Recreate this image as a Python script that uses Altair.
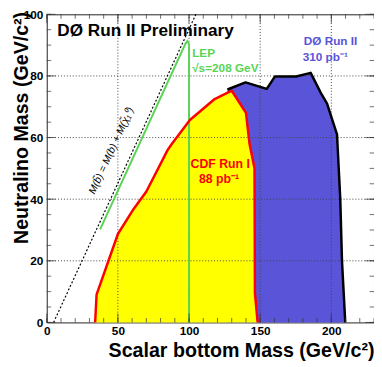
import altair as alt
import pandas as pd

# CDF Run I excluded region boundary (red / yellow)
cdf_x = [34, 35, 50, 60.3, 70, 85, 88, 100.6, 118, 130, 140, 142.5, 146, 146.3, 148.2]
cdf_y = [0, 9, 28.7, 36.3, 42.5, 56, 58, 65.7, 72.5, 75.2, 68, 58, 50, 9.5, 0]

# D0 Run II excluded region boundary (black / blue)
d0_x = [127, 139.7, 154.6, 160.3, 175.3, 185.5, 192.6, 197, 204, 206.3, 207.5, 209.8]
d0_y = [75.6, 77.9, 75.8, 79.8, 79.8, 81, 74.5, 71, 61, 40, 20, 0]

# LEP limit (green)
lep_x = [37.5, 97.5, 98.8, 100, 100]
lep_y = [30.2, 90.5, 91.3, 90.3, 0]

# Kinematic limit M(sbottom) = M(b) + M(chi)
kin_x = [4.8, 104.8]
kin_y = [0, 100]

x_labels = [0, 50, 100, 150, 200]
y_labels = [0, 20, 40, 60, 80, 100]
x_grid = [50, 100, 150, 200]
y_grid = [20, 40, 60, 80]
x_minor = list(range(0, 231, 10))
y_minor = list(range(0, 101, 5))

FONT = "Liberation Sans"
W, H = 333.5, 314

xs = alt.Scale(domain=[0, 230], nice=False, zero=False)
ys = alt.Scale(domain=[0, 100], nice=False, zero=False)
xaxis = alt.Axis(values=x_labels, title="Scalar bottom Mass (GeV/c²)", grid=False, ticks=False,
                 domain=False, labelPadding=3, labelOverlap=False, labelFlush=False,
                 titleAnchor="end", titleAlign="right", titleX=W, titleY=35,
                 titleBaseline="alphabetic")
yaxis = alt.Axis(values=y_labels, title="Neutralino Mass (GeV/c²)", grid=False, ticks=False,
                 domain=False, labelPadding=4, labelOverlap=False, labelFlush=False,
                 titleAnchor="end", titleAlign="right", titleX=-19.5, titleY=-3,
                 titleBaseline="alphabetic", titleAngle=270)


def X():
    return alt.X("x:Q", scale=xs, axis=xaxis)


def Y():
    return alt.Y("y:Q", scale=ys, axis=yaxis)


cdf = pd.DataFrame({"x": cdf_x, "y": cdf_y, "y0": [0] * len(cdf_x), "o": range(len(cdf_x))})
d0 = pd.DataFrame({"x": d0_x, "y": d0_y, "y0": [0] * len(d0_x), "o": range(len(d0_x))})
lep = pd.DataFrame({"x": lep_x, "y": lep_y, "o": range(len(lep_x))})
kin = pd.DataFrame({"x": kin_x, "y": kin_y})

blue = alt.Chart(d0).mark_area(color="#5954d8", opacity=1).encode(
    x=X(), y=Y(), y2="y0:Q")
yellow = alt.Chart(cdf).mark_area(color="#ffff00", opacity=1).encode(
    x=X(), y=Y(), y2="y0:Q")

gridx = alt.Chart(pd.DataFrame({"x": x_grid})).mark_rule(
    color="#444", strokeWidth=1, strokeDash=[1, 2]).encode(x=X())
gridy = alt.Chart(pd.DataFrame({"y": y_grid})).mark_rule(
    color="#444", strokeWidth=1, strokeDash=[1, 2]).encode(y=Y())

green = alt.Chart(lep).mark_line(color="#59d454", strokeWidth=2).encode(x=X(), y=Y(), order="o:Q")
red = alt.Chart(cdf).mark_line(color="#ff0000", strokeWidth=2.5, strokeJoin="round").encode(
    x=X(), y=Y(), order="o:Q")
black = alt.Chart(d0).mark_line(color="#000000", strokeWidth=2.5, strokeJoin="round").encode(
    x=X(), y=Y(), order="o:Q")
dashed = alt.Chart(kin).mark_line(color="#000000", strokeWidth=1.2, strokeDash=[2, 2]).encode(
    x=X(), y=Y())


def ticks_x(vals, size, top):
    return alt.Chart(pd.DataFrame({"x": vals})).mark_tick(
        size=size, thickness=1, color="#333").encode(
        x=X(), y=alt.value(size / 2 if top else H - size / 2))


def ticks_y(vals, size, right):
    return alt.Chart(pd.DataFrame({"y": vals})).mark_tick(
        size=size, thickness=1, color="#333").encode(
        y=Y(), x=alt.value(W - size / 2 if right else size / 2))


tick_layers = [
    ticks_x(x_minor, 4.5, False), ticks_x(x_minor, 4.5, True),
    ticks_x(x_labels, 9, False), ticks_x(x_labels, 9, True),
    ticks_y(y_minor, 4.5, False), ticks_y(y_minor, 4.5, True),
    ticks_y(y_labels, 9, False), ticks_y(y_labels, 9, True),
]


def label(text, x, y, color, size, weight="bold", align="left", angle=0,
          baseline="alphabetic", style="normal"):
    return alt.Chart(pd.DataFrame({"x": [x], "y": [y], "t": [text]})).mark_text(
        color=color, fontSize=size, fontWeight=weight, align=align, angle=angle,
        baseline=baseline, font=FONT, fontStyle=style).encode(x=X(), y=Y(), text="t:N")


texts = [
    label("DØ Run II Preliminary", 7.45, 92.8, "#000000", 17.5),
    label("LEP", 102.2, 86.0, "#59d454", 12),
    label("√s=208 GeV", 102.2, 81.3, "#59d454", 12),
    label("DØ Run II", 180.6, 90.1, "#5954d8", 12),
    label("310 pb⁻¹", 179.9, 85.0, "#5954d8", 12),
    label("CDF Run I", 121.9, 50.0, "#ff0000", 12.5, align="center"),
    label("88 pb⁻¹", 121.0, 45.4, "#ff0000", 12.5, align="center"),
    label("M(b\u0303) = M(b) + M(\u03c7\u0303\u2081\u2070)", 45.5, 55.7, "#000000", 10.5,
          weight="normal", align="center", angle=294.6, baseline="middle", style="italic"),
]

chart = alt.layer(
    blue, yellow, gridx, gridy, green, red, black, dashed, *tick_layers, *texts
).properties(
    width=W, height=H,
    padding={"left": 39.5, "top": 3, "right": 0, "bottom": 42},
    autosize=alt.AutoSizeParams(type="none"),
).configure_view(
    stroke="#222", strokeWidth=1
).configure_axis(
    labelFont=FONT, labelFontSize=12, labelFontWeight="bold", labelColor="#000",
    titleFont=FONT, titleFontSize=20, titleFontWeight="bold", titleColor="#000",
)

chart.save("out.html", embed_options={"renderer": "svg", "actions": False})
